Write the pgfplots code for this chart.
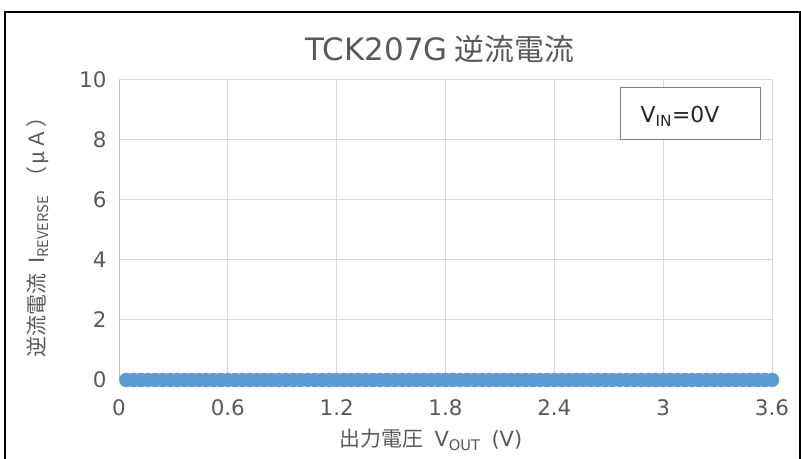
\documentclass[border=0pt]{standalone}
\usepackage{fontspec}
\setmainfont{DejaVu Sans}
\newfontfamily\jp{Noto Sans CJK JP}
\usepackage{pgfplots}
\pgfplotsset{compat=1.18}
\definecolor{txt}{HTML}{595959}
\definecolor{grid}{HTML}{D9D9D9}
\definecolor{axl}{HTML}{BFBFBF}
\definecolor{mk}{HTML}{5B9BD5}
\begin{document}
\begin{tikzpicture}[x=1bp,y=1bp]
\path[use as bounding box] (0,0) rectangle (801,459);
\draw[black,line width=1.5bp] (5,0) -- (5,447) -- (800,447) -- (800,0);
\begin{axis}[
  at={(119bp,79bp)}, anchor=south west, scale only axis,
  width=653bp, height=300bp,
  xmin=0, xmax=3.6, ymin=0, ymax=10,
  xtick={0,0.6,1.2,1.8,2.4,3,3.6},
  ytick={0,2,4,6,8,10},
  major tick length=0pt,
  grid=major, grid style={draw=grid, line width=1bp},
  axis x line*=bottom, axis y line*=left,
  axis line style={draw=axl, line width=1bp},
  /pgf/number format/assume math mode=true,
  ticklabel style={font=\fontsize{21.5}{21.5}\selectfont, text=txt},
  xticklabel style={yshift=-16bp},
  yticklabel style={xshift=-9bp},
  clip=false,
]
\addplot[only marks, mark=*, mark size=7bp, mark options={draw=mk, fill=mk}] coordinates {
(0.04,0) (0.08,0) (0.12,0) (0.16,0) (0.20,0) (0.24,0) (0.28,0) (0.32,0) (0.36,0) (0.40,0)
(0.44,0) (0.48,0) (0.52,0) (0.56,0) (0.60,0) (0.64,0) (0.68,0) (0.72,0) (0.76,0) (0.80,0)
(0.84,0) (0.88,0) (0.92,0) (0.96,0) (1.00,0) (1.04,0) (1.08,0) (1.12,0) (1.16,0) (1.20,0)
(1.24,0) (1.28,0) (1.32,0) (1.36,0) (1.40,0) (1.44,0) (1.48,0) (1.52,0) (1.56,0) (1.60,0)
(1.64,0) (1.68,0) (1.72,0) (1.76,0) (1.80,0) (1.84,0) (1.88,0) (1.92,0) (1.96,0) (2.00,0)
(2.04,0) (2.08,0) (2.12,0) (2.16,0) (2.20,0) (2.24,0) (2.28,0) (2.32,0) (2.36,0) (2.40,0)
(2.44,0) (2.48,0) (2.52,0) (2.56,0) (2.60,0) (2.64,0) (2.68,0) (2.72,0) (2.76,0) (2.80,0)
(2.84,0) (2.88,0) (2.92,0) (2.96,0) (3.00,0) (3.04,0) (3.08,0) (3.12,0) (3.16,0) (3.20,0)
(3.24,0) (3.28,0) (3.32,0) (3.36,0) (3.40,0) (3.44,0) (3.48,0) (3.52,0) (3.56,0) (3.60,0)
};
\end{axis}
\node[text=txt, font=\fontsize{31}{31}\selectfont] at (440,410) {TCK207G\hspace{7bp}{\jp\fontsize{30}{30}\selectfont 逆流電流}};
\node[text=txt, font=\jp\fontsize{21}{21}\selectfont, rotate=90] at (38,227) {逆流電流\hspace{10bp}{\rmfamily I}\textsubscript{REVERSE}\hspace{8bp}（\hspace{2bp}μ\hspace{2bp}Ａ\hspace{1bp}）};
\node[text=txt, font=\jp\fontsize{21}{21}\selectfont] at (431,19) {出力電圧\hspace{11bp}{\rmfamily V\textsubscript{OUT}\hspace{11bp}(V)}};
\draw[draw=gray, line width=1bp, fill=white] (620,319) rectangle (760,371);
\node[text=black!85, font=\fontsize{22}{22}\selectfont] at (680,343) {V\textsubscript{IN}=0V};
\end{tikzpicture}
\end{document}
